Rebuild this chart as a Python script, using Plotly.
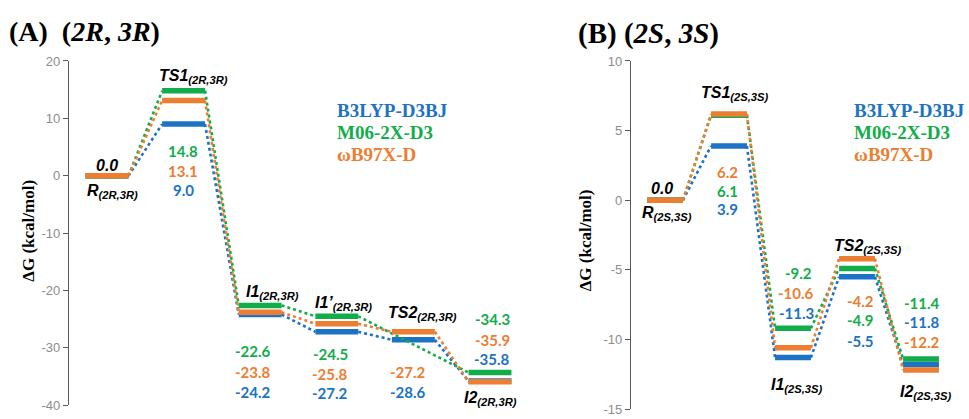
import plotly.graph_objects as go

# ---------------- data ----------------
methods = ["B3LYP-D3BJ", "M06-2X-D3", "ωB97X-D"]
colors = ["#1C72C4", "#12AD4B", "#ED7D31"]

# Panel A (2R,3R)
states_A = ["R", "TS1", "I1", "I1’", "TS2", "I2"]
b3lyp_A = [0.0, 9.0, -24.2, -27.2, -28.6, -35.8]
m062x_A = [0.0, 14.8, -22.6, -24.5, None, -34.3]
wb97xd_A = [0.0, 13.1, -23.8, -25.8, -27.2, -35.9]

# Panel B (2S,3S)
states_B = ["R", "TS1", "I1", "TS2", "I2"]
b3lyp_B = [0.0, 3.9, -11.3, -5.5, -11.8]
m062x_B = [0.0, 6.1, -9.2, -4.9, -11.4]
wb97xd_B = [0.0, 6.2, -10.6, -4.2, -12.2]

yticks_A = [20, 10, 0, -10, -20, -30, -40]
yticklabels_A = ["20", "10", "0", "-10", "-20", "-30", "-40"]
yticks_B = [10, 5, 0, -5, -10, -15]
yticklabels_B = ["10", "5", "0", "-5", "-10", "-15"]

W, H = 969, 419
HW = 0.28  # half width of level bars (category units)

fig = go.Figure()


def add_series(vals, color, xa, ya):
    bx, by, cx, cy = [], [], [], []
    prev = None
    for i, v in enumerate(vals):
        if v is None:
            continue
        bx += [i - HW, i + HW, None]
        by += [v, v, None]
        if prev is not None:
            cx += [prev[0] + HW, i - HW, None]
            cy += [prev[1], v, None]
        prev = (i, v)
    fig.add_trace(go.Scatter(x=cx, y=cy, mode="lines", xaxis=xa, yaxis=ya,
                             line=dict(color=color, width=2.6, dash="dot"),
                             hoverinfo="skip", showlegend=False))
    fig.add_trace(go.Scatter(x=bx, y=by, mode="lines", xaxis=xa, yaxis=ya,
                             line=dict(color=color, width=5.5),
                             hoverinfo="skip", showlegend=False))


for vals, c in zip([b3lyp_A, m062x_A, wb97xd_A], colors):
    add_series(vals, c, "x", "y")
for vals, c in zip([b3lyp_B, m062x_B, wb97xd_B], colors):
    add_series(vals, c, "x2", "y2")


def px2paper(px, py):
    return px / W, 1 - py / H


ann = []


def text(px, py, s, size, color="black", family="Lato", xanchor="center"):
    x, y = px2paper(px, py)
    ann.append(dict(x=x, y=y, xref="paper", yref="paper", text=s, showarrow=False,
                    xanchor=xanchor, yanchor="middle",
                    font=dict(size=size, color=color, family=family)))


SANS = "Liberation Sans"
SERIF = "Liberation Serif"


def name(px, py, main, sub):
    text(px, py, f"<b><i>{main}<sub>{sub}</sub></i></b>", 16, "black", SANS)


def val(px, py, v, color):
    text(px, py, f"<b>{v:.1f}</b>", 15, color, "Lato")


# Panel A labels
text(107, 164, "<b><i>0.0</i></b>", 16, "black", SANS)
name(112, 191, "R", "(2R,3R)")
name(193, 72, "TS1", "(2R,3R)")
name(272, 296, "I1", "(2R,3R)")
name(343, 308, "I1’", "(2R,3R)")
name(422, 318, "TS2", "(2R,3R)")
name(490, 406, "I2", "(2R,3R)")

lab_A = {  # (index) -> list of (px, py, series)
    1: [(183, 149, 1), (183, 170, 2), (183, 190, 0)],
    2: [(253, 357, 1), (253, 379, 2), (253, 399, 0)],
    3: [(330, 360, 1), (330, 381, 2), (330, 400, 0)],
    4: [(408, 379, 2), (408, 399, 0)],
    5: [(492, 324, 1), (492, 345, 2), (492, 365, 0)],
}
series_A = [b3lyp_A, m062x_A, wb97xd_A]
for i, lst in lab_A.items():
    for px, py, s in lst:
        val(px, py, series_A[s][i], colors[s])

# Panel B labels
text(662, 188, "<b><i>0.0</i></b>", 16, "black", SANS)
name(667, 214, "R", "(2S,3S)")
name(735, 90, "TS1", "(2S,3S)")
name(797, 393, "I1", "(2S,3S)")
name(868, 248, "TS2", "(2S,3S)")
name(926, 400, "I2", "(2S,3S)")

lab_B = {
    1: [(727, 171, 2), (727, 191, 1), (727, 210, 0)],
    2: [(798, 276, 1), (796, 297, 2), (796, 317, 0)],
    3: [(860, 305, 2), (860, 325, 1), (860, 346, 0)],
    4: [(922, 307, 1), (922, 327, 0), (922, 347, 2)],
}
series_B = [b3lyp_B, m062x_B, wb97xd_B]
for i, lst in lab_B.items():
    for px, py, s in lst:
        val(px, py, series_B[s][i], colors[s])

# method "legends"
for k, (m, c) in enumerate(zip(methods, colors)):
    text(335, 107 + 23 * k, f"<b>{m}</b>", 19, c, SERIF, "left")
    text(852, 107 + 23 * k, f"<b>{m}</b>", 19, c, SERIF, "left")

# titles
text(7, 25, "<b>(A)  (<i>2R</i>, <i>3R</i>)</b>", 28, "black", SERIF, "left")
text(576, 28, "<b>(B) (<i>2S</i>, <i>3S</i>)</b>", 29, "black", SERIF, "left")

# axis titles
for px, py in [(29, 232), (585, 242)]:
    x, y = px2paper(px, py)
    ann.append(dict(x=x, y=y, xref="paper", yref="paper", text="<b>ΔG (kcal/mol)</b>",
                    showarrow=False, textangle=-90, xanchor="center", yanchor="middle",
                    font=dict(size=17, color="black", family=SERIF)))

axis_common = dict(showgrid=False, zeroline=False, showline=True, linecolor="#595959",
                   linewidth=1.4, ticks="outside", ticklen=5, tickcolor="#595959",
                   ticklabeloverflow="allow",
                   tickfont=dict(size=13, color="#8C8C8C", family=SANS))

fig.update_layout(
    width=W, height=H, margin=dict(l=0, r=0, t=0, b=0),
    paper_bgcolor="white", plot_bgcolor="white", showlegend=False,
    xaxis=dict(domain=[69 / W, 525 / W], range=[(69 - 107) / 76.6, (525 - 107) / 76.6],
               visible=False),
    yaxis=dict(domain=[1 - 413 / H, 1 - 56 / H], range=[-40, 20], tickvals=yticks_A,
               ticktext=yticklabels_A, anchor="x", **axis_common),
    xaxis2=dict(domain=[631 / W, 1.0], range=[(631 - 665) / 64, (969 - 665) / 64],
                visible=False),
    yaxis2=dict(domain=[1 - 417 / H, 1 - 56 / H], range=[-15, 10], tickvals=yticks_B,
                ticktext=yticklabels_B, anchor="x2", **axis_common),
    annotations=ann,
)

fig.write_html("out.html")
